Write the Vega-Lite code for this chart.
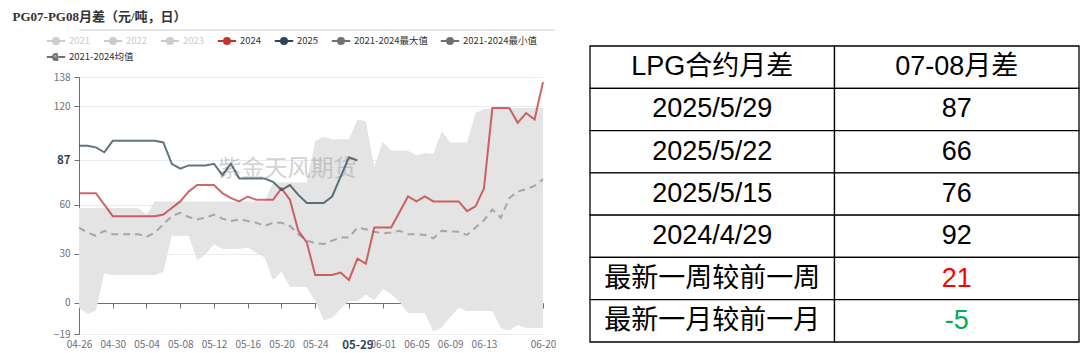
{
  "$schema": "https://vega.github.io/schema/vega-lite/v6.json",
  "padding": {"top": 11, "left": 0, "right": 0, "bottom": 0},
  "background": "white",
  "config": {"view": {"stroke": null}, "font": "Noto Sans CJK SC"},
  "datasets": {
    "daily": [
      {"date": "2025-04-26", "max": 58, "min": -3, "mean": 46, "2024": 67, "2025": 96},
      {"date": "2025-04-27", "max": 58, "min": -6.7, "mean": 43, "2024": 67, "2025": 96},
      {"date": "2025-04-28", "max": 58, "min": -5, "mean": 41, "2024": 67, "2025": 95},
      {"date": "2025-04-29", "max": 58, "min": 18, "mean": 44, "2024": 60, "2025": 92},
      {"date": "2025-04-30", "max": 58, "min": 17, "mean": 42, "2024": 53, "2025": 99},
      {"date": "2025-05-01", "max": 58, "min": 17, "mean": 42, "2024": 53, "2025": 99},
      {"date": "2025-05-02", "max": 58, "min": 17, "mean": 42, "2024": 53, "2025": 99},
      {"date": "2025-05-03", "max": 58, "min": 17, "mean": 42, "2024": 53, "2025": 99},
      {"date": "2025-05-04", "max": 54, "min": 17, "mean": 40.3, "2024": 53, "2025": 99},
      {"date": "2025-05-05", "max": 62, "min": 17, "mean": 43, "2024": 53, "2025": 99},
      {"date": "2025-05-06", "max": 62, "min": 19, "mean": 48, "2024": 54, "2025": 98},
      {"date": "2025-05-07", "max": 62, "min": 41, "mean": 53, "2024": 58, "2025": 85},
      {"date": "2025-05-08", "max": 62, "min": 41, "mean": 55, "2024": 62, "2025": 82},
      {"date": "2025-05-09", "max": 62, "min": 41, "mean": 52.5, "2024": 68, "2025": 84},
      {"date": "2025-05-10", "max": 62, "min": 26, "mean": 51, "2024": 72, "2025": 84},
      {"date": "2025-05-11", "max": 62, "min": 29.7, "mean": 52, "2024": 72, "2025": 84},
      {"date": "2025-05-12", "max": 62, "min": 35.8, "mean": 54, "2024": 72, "2025": 85},
      {"date": "2025-05-13", "max": 62, "min": 33, "mean": 51.5, "2024": 67, "2025": 78},
      {"date": "2025-05-14", "max": 62, "min": 33, "mean": 50, "2024": 64, "2025": 85},
      {"date": "2025-05-15", "max": 62, "min": 33, "mean": 51, "2024": 62, "2025": 76},
      {"date": "2025-05-16", "max": 62, "min": 33.8, "mean": 50, "2024": 65, "2025": 76},
      {"date": "2025-05-17", "max": 62, "min": 30.7, "mean": 49, "2024": 63, "2025": 76},
      {"date": "2025-05-18", "max": 62, "min": 27.7, "mean": 47, "2024": 63, "2025": 76},
      {"date": "2025-05-19", "max": 73.5, "min": 13.9, "mean": 49, "2024": 63, "2025": 74},
      {"date": "2025-05-20", "max": 73.5, "min": 19, "mean": 49, "2024": 70, "2025": 69},
      {"date": "2025-05-21", "max": 73.5, "min": 9.8, "mean": 47, "2024": 63, "2025": 72},
      {"date": "2025-05-22", "max": 73.5, "min": 9.8, "mean": 42, "2024": 44, "2025": 66},
      {"date": "2025-05-23", "max": 73.5, "min": 9.6, "mean": 38, "2024": 37, "2025": 61},
      {"date": "2025-05-24", "max": 99, "min": 1.2, "mean": 36.5, "2024": 17, "2025": 61},
      {"date": "2025-05-25", "max": 101.5, "min": -10.6, "mean": 36, "2024": 17, "2025": 61},
      {"date": "2025-05-26", "max": 100, "min": -9, "mean": 38, "2024": 17, "2025": 65},
      {"date": "2025-05-27", "max": 100, "min": -3.9, "mean": 40, "2024": 18.5, "2025": 77},
      {"date": "2025-05-28", "max": 100, "min": 1.2, "mean": 40, "2024": 14, "2025": 89},
      {"date": "2025-05-29", "max": 112, "min": 1.2, "mean": 46, "2024": 27, "2025": 87},
      {"date": "2025-05-30", "max": 111, "min": 5, "mean": 45, "2024": 24},
      {"date": "2025-05-31", "max": 83, "min": 1.6, "mean": 43.5, "2024": 46},
      {"date": "2025-06-01", "max": 98.5, "min": 8.4, "mean": 42.5, "2024": 46},
      {"date": "2025-06-02", "max": 93, "min": 5.5, "mean": 43, "2024": 46},
      {"date": "2025-06-03", "max": 93, "min": 0.5, "mean": 44, "2024": 55.5},
      {"date": "2025-06-04", "max": 93, "min": -6.2, "mean": 42, "2024": 65},
      {"date": "2025-06-05", "max": 90, "min": -6.2, "mean": 42, "2024": 62},
      {"date": "2025-06-06", "max": 91.5, "min": -6.2, "mean": 41.5, "2024": 65},
      {"date": "2025-06-07", "max": 91, "min": -17.5, "mean": 39.5, "2024": 62},
      {"date": "2025-06-08", "max": 105, "min": -15, "mean": 44, "2024": 62},
      {"date": "2025-06-09", "max": 98, "min": -8.8, "mean": 43.6, "2024": 62},
      {"date": "2025-06-10", "max": 98, "min": -3, "mean": 43.4, "2024": 62},
      {"date": "2025-06-11", "max": 98, "min": -5, "mean": 41.5, "2024": 56},
      {"date": "2025-06-12", "max": 116, "min": -5, "mean": 46, "2024": 59},
      {"date": "2025-06-13", "max": 118.5, "min": -5, "mean": 50.5, "2024": 70},
      {"date": "2025-06-14", "max": 119, "min": -5, "mean": 57, "2024": 119},
      {"date": "2025-06-15", "max": 119, "min": -15.5, "mean": 52, "2024": 119},
      {"date": "2025-06-16", "max": 119, "min": -16.7, "mean": 64, "2024": 119},
      {"date": "2025-06-17", "max": 119, "min": -13.5, "mean": 68, "2024": 110},
      {"date": "2025-06-18", "max": 119, "min": -15.3, "mean": 69.5, "2024": 116},
      {"date": "2025-06-19", "max": 119, "min": -15.3, "mean": 71.5, "2024": 112},
      {"date": "2025-06-20", "max": 119, "min": -15.3, "mean": 75.5, "2024": 135}
    ],
    "table": [
      {"label": "LPG合约月差", "value": "07-08月差"},
      {"label": "2025/5/29", "value": "87"},
      {"label": "2025/5/22", "value": "66"},
      {"label": "2025/5/15", "value": "76"},
      {"label": "2024/4/29", "value": "92"},
      {"label": "最新一周较前一周", "value": "21"},
      {"label": "最新一月较前一月", "value": "-5"}
    ]
  },
  "columns": 2,
  "spacing": 31,
  "resolve": {
    "scale": {"color": "independent", "strokeDash": "independent"},
    "legend": {"color": "independent", "strokeDash": "independent"}
  },
  "concat": [
    {
      "columns": 1,
      "spacing": 1,
      "resolve": {
        "scale": {"color": "independent", "strokeDash": "independent"},
        "legend": {"color": "independent", "strokeDash": "independent"}
      },
      "concat": [
        {
          "data": {"values": [{}]},
          "width": 476,
          "height": 1,
          "title": {"text": "PG07-PG08月差（元/吨，日）", "anchor": "start", "dx": -66, "offset": 5, "fontSize": 13, "fontWeight": "bold", "font": "Liberation Serif, Noto Sans CJK SC", "color": "#333333"},
          "mark": {"type": "rule", "color": "#cccccc", "strokeWidth": 1},
          "encoding": {"y": {"datum": 0, "type": "quantitative", "scale": {"domain": [0, 1]}, "axis": null}}
        },
        {
          "width": 464,
          "height": 257,
          "data": {"name": "daily"},
          "resolve": {"axis": {"x": "independent"}},
          "layer": [
            {
              "mark": {"type": "area", "color": "#e4e4e4"},
              "encoding": {
                "x": {
                  "field": "date", "type": "temporal", "title": null,
                  "scale": {"type": "utc", "domain": [{"year": 2025, "month": 4, "date": 26, "utc": true}, {"year": 2025, "month": 6, "date": 20, "utc": true}]},
                  "axis": {
                    "orient": "bottom",
                    "values": [
                      {"year": 2025, "month": 4, "date": 26, "utc": true},
                      {"year": 2025, "month": 4, "date": 30, "utc": true},
                      {"year": 2025, "month": 5, "date": 4, "utc": true},
                      {"year": 2025, "month": 5, "date": 8, "utc": true},
                      {"year": 2025, "month": 5, "date": 12, "utc": true},
                      {"year": 2025, "month": 5, "date": 16, "utc": true},
                      {"year": 2025, "month": 5, "date": 20, "utc": true},
                      {"year": 2025, "month": 5, "date": 24, "utc": true},
                      {"year": 2025, "month": 5, "date": 29, "utc": true},
                      {"year": 2025, "month": 6, "date": 1, "utc": true},
                      {"year": 2025, "month": 6, "date": 5, "utc": true},
                      {"year": 2025, "month": 6, "date": 9, "utc": true},
                      {"year": 2025, "month": 6, "date": 13, "utc": true},
                      {"year": 2025, "month": 6, "date": 20, "utc": true}
                    ],
                    "format": "%m-%d",
                    "domain": false, "ticks": false, "grid": false,
                    "labelPadding": 5, "labelOverlap": false, "labelFlush": false,
                    "labelFontSize": {"condition": {"test": "utcdate(datum.value) == 29", "value": 11.5}, "value": 10},
                    "labelFontWeight": {"condition": {"test": "utcdate(datum.value) == 29", "value": "bold"}, "value": "normal"},
                    "labelColor": {"condition": {"test": "utcdate(datum.value) == 29", "value": "#2f4554"}, "value": "#6e7079"}
                  }
                },
                "y": {
                  "field": "max", "type": "quantitative", "title": null,
                  "scale": {"domain": [-19, 138], "nice": false, "zero": false},
                  "axis": {
                    "values": [-19, 0, 30, 60, 87, 120, 138],
                    "domain": true, "domainColor": "#6e7079",
                    "ticks": true, "tickColor": "#6e7079", "tickSize": 5,
                    "grid": true, "gridColor": "#e8ebf0",
                    "labelPadding": 4, "labelOverlap": false,
                    "labelFontSize": {"condition": {"test": "datum.value == 87", "value": 11.5}, "value": 10},
                    "labelFontWeight": {"condition": {"test": "datum.value == 87", "value": "bold"}, "value": "normal"},
                    "labelColor": {"condition": {"test": "datum.value == 87", "value": "#2f4554"}, "value": "#6e7079"},
                    "minExtent": 79, "maxExtent": 79
                  }
                },
                "y2": {"field": "min"}
              }
            },
            {
              "transform": [{"fold": ["mean"], "as": ["series", "value"]}],
              "mark": {"type": "line", "color": "#a6a6a6", "strokeWidth": 2},
              "encoding": {
                "x": {
                  "field": "date", "type": "temporal", "title": null,
                  "axis": {
                    "orient": "bottom",
                    "values": [
                      {"year": 2025, "month": 4, "date": 26, "utc": true},
                      {"year": 2025, "month": 4, "date": 30, "utc": true},
                      {"year": 2025, "month": 5, "date": 4, "utc": true},
                      {"year": 2025, "month": 5, "date": 8, "utc": true},
                      {"year": 2025, "month": 5, "date": 12, "utc": true},
                      {"year": 2025, "month": 5, "date": 16, "utc": true},
                      {"year": 2025, "month": 5, "date": 20, "utc": true},
                      {"year": 2025, "month": 5, "date": 24, "utc": true},
                      {"year": 2025, "month": 5, "date": 28, "utc": true},
                      {"year": 2025, "month": 6, "date": 1, "utc": true},
                      {"year": 2025, "month": 6, "date": 5, "utc": true},
                      {"year": 2025, "month": 6, "date": 9, "utc": true},
                      {"year": 2025, "month": 6, "date": 13, "utc": true},
                      {"year": 2025, "month": 6, "date": 20, "utc": true}
                    ],
                    "labels": false, "grid": false,
                    "domain": true, "domainColor": "#6e7079",
                    "ticks": true, "tickColor": "#6e7079", "tickSize": 5,
                    "offset": -31
                  }
                },
                "y": {"field": "value", "type": "quantitative", "title": null},
                "strokeDash": {
                  "field": "series", "type": "nominal",
                  "scale": {"domain": ["mean"], "range": [[7, 5]]},
                  "legend": {
                    "title": null, "orient": "none", "legendX": -32, "legendY": -29,
                    "labelExpr": "'2021-2024均值'",
                    "symbolType": "M-1.15,0L1.15,0M-0.375,0A0.375,0.375,0,1,0,0.375,0A0.375,0.375,0,1,0,-0.375,0M-0.2,0A0.2,0.2,0,1,0,0.2,0A0.2,0.2,0,1,0,-0.2,0M-0.05,0A0.05,0.05,0,1,0,0.05,0A0.05,0.05,0,1,0,-0.05,0",
                    "symbolSize": 256, "symbolStrokeWidth": 2, "symbolOpacity": 1,
                    "symbolStrokeColor": "#6e7074", "symbolDash": [100, 0],
                    "labelFontSize": 9.5, "labelOffset": 4, "labelLimit": 200, "labelColor": "#333333"
                  }
                }
              }
            },
            {
              "data": {"values": [{}]},
              "mark": {"type": "text", "text": "紫金天风期货", "fontSize": 23, "color": "#9a9a9a", "opacity": 0.45, "align": "center", "baseline": "middle"},
              "encoding": {
                "x": {"datum": {"year": 2025, "month": 5, "date": 20, "hours": 17, "utc": true}, "type": "temporal", "axis": null},
                "y": {"datum": 82, "type": "quantitative"}
              }
            },
            {
              "transform": [{"fold": ["2024", "2025"], "as": ["series", "value"]}, {"filter": "isValid(datum.value)"}],
              "mark": {"type": "line", "strokeWidth": 2, "opacity": 0.75},
              "encoding": {
                "x": {"field": "date", "type": "temporal", "title": null, "axis": null},
                "y": {"field": "value", "type": "quantitative", "title": null},
                "color": {
                  "field": "series", "type": "nominal",
                  "scale": {
                    "domain": ["2021", "2022", "2023", "2024", "2025", "2021-2024最大值", "2021-2024最小值"],
                    "range": ["#cccccc", "#cccccc", "#cccccc", "#c23531", "#2f4554", "#6e7074", "#6e7074"]
                  },
                  "legend": {
                    "title": null, "orient": "none", "legendX": -32, "legendY": -45,
                    "direction": "horizontal",
                    "columnPadding": 8, "rowPadding": 0,
                    "symbolType": "M-1.15,0L1.15,0M-0.375,0A0.375,0.375,0,1,0,0.375,0A0.375,0.375,0,1,0,-0.375,0M-0.2,0A0.2,0.2,0,1,0,0.2,0A0.2,0.2,0,1,0,-0.2,0M-0.05,0A0.05,0.05,0,1,0,0.05,0A0.05,0.05,0,1,0,-0.05,0",
                    "symbolSize": 256, "symbolStrokeWidth": 2, "symbolOpacity": 1,
                    "labelFontSize": 9.5, "labelOffset": 4, "labelLimit": 200,
                    "labelColor": {"expr": "indexof(['2021','2022','2023'], datum.label) >= 0 ? '#cccccc' : '#333333'"}
                  }
                }
              }
            }
          ]
        }
      ]
    },
    {
      "columns": 1,
      "spacing": 12,
      "concat": [
        {
          "data": {"values": [{}]},
          "width": 1,
          "height": 1,
          "mark": {"type": "point", "opacity": 0}
        },
        {
          "data": {"name": "table"},
          "width": 489,
          "height": 296,
          "transform": [{"fold": ["label", "value"], "as": ["col", "text"]}],
          "encoding": {
            "x": {"field": "col", "type": "nominal", "sort": ["label", "value"], "title": null, "scale": {"paddingInner": 0, "paddingOuter": 0}, "axis": null},
            "y": {"field": "label", "type": "nominal", "sort": null, "scale": {"paddingInner": 0, "paddingOuter": 0}, "axis": null}
          },
          "layer": [
            {"mark": {"type": "rect", "fill": "white", "stroke": "black", "strokeWidth": 1.3}},
            {
              "mark": {"type": "text", "fontSize": 27, "font": "Liberation Sans, Noto Sans CJK SC", "align": "center", "baseline": "middle"},
              "encoding": {
                "text": {"field": "text"},
                "color": {"condition": [{"test": "datum.text == '21'", "value": "#ff0000"}, {"test": "datum.text == '-5'", "value": "#00b050"}], "value": "#000000"}
              }
            }
          ]
        }
      ]
    }
  ]
}
